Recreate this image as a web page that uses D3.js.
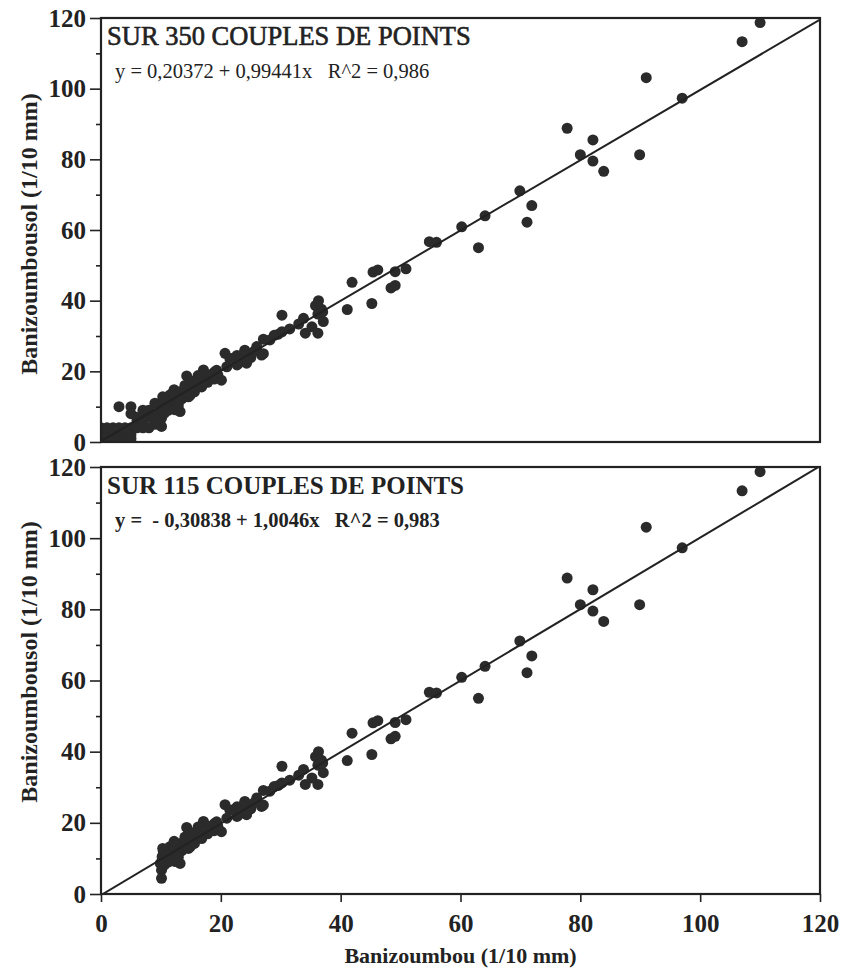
<!DOCTYPE html>
<html>
<head>
<meta charset="utf-8">
<script src="https://cdn.jsdelivr.net/npm/d3@7"></script>
<style>
  html, body { margin: 0; padding: 0; background: #fff; }
  svg { display: block; }
  text { font-family: "Liberation Serif", "Times New Roman", serif; fill: #222; }
</style>
</head>
<body>
<svg id="chart" width="843" height="968"></svg>
<script>
// Pairs (Banizoumbou, Banizoumbousol) in 1/10 mm, events of 1 mm and more
const pairsMain = [
  [110.0,118.7],[107.0,113.3],[91.0,103.1],[97.0,97.3],[77.8,88.8],[82.1,85.5],
  [80.0,81.3],[82.1,79.5],[83.9,76.6],[89.9,81.3],[69.9,71.1],[71.9,66.9],
  [71.1,62.2],[64.1,64.0],[60.2,60.9],[54.8,56.7],[56.0,56.5],[63.0,55.0],[50.9,49.0],
  [41.9,45.2],[41.1,37.5],[45.2,39.2],[45.4,48.1],[46.2,48.7],[48.4,43.6],[49.1,44.3],[49.1,48.2],
  [30.2,35.9],[30.2,31.2],[33.8,35.0],[34.1,30.8],[35.8,38.6],[36.3,40.0],[36.8,37.6],
  [36.2,36.2],[37.1,34.1],[36.2,30.8],[35.2,32.6],[33.0,33.4],[31.5,32.0],[37.0,36.8],
  [27.1,29.1],[28.2,28.9],[26.8,24.6],[24.0,26.0],[24.3,22.3],[22.7,21.8],[20.7,25.1],
  [22.1,23.7],[21.0,21.3],[27.1,25.0],[22.7,24.5],[22.9,22.2],[21.5,23.6],[24.0,25.6],
  [25.0,23.9],[26.0,27.0],[29.6,30.5],[25.6,25.7],[23.4,23.0],[28.9,30.2],
  [20.1,17.5],[19.0,19.9],[17.1,20.4],[14.3,18.7],[19.3,20.3],[18.7,19.4],[17.9,18.5],
  [17.1,19.9],[16.5,17.1],[15.4,15.7],[14.9,13.3],[13.2,14.2],[13.2,8.6],[12.4,9.1],
  [11.5,13.3],[10.4,11.9],[9.9,8.6],[10.1,6.7],[10.1,4.4],
  [10.2,10.5],[10.5,9.6],[11.0,12.0],[11.2,10.8],[11.8,11.6],[12.0,12.6],[12.5,11.0],
  [12.8,13.6],[13.5,12.2],[13.8,13.0],[14.2,14.8],[14.6,12.8],[15.0,15.2],[15.6,14.2],
  [16.0,16.3],[16.8,15.6],[17.2,17.5],[17.8,16.9],[18.2,18.1],[18.9,17.8],[19.5,19.0],
  [16.2,18.8],[15.4,17.2],[14.0,16.0],[13.0,11.5],[12.2,14.8],[11.6,10.2],[10.8,11.2],
  [10.3,12.8],[10.6,8.2],[11.3,9.0],[12.9,10.3],[14.8,16.6],[16.6,16.0],[17.6,18.8]
];

// Small events (below 1 mm at Banizoumbou), only in the full sample
const pairsSmall = [
  [0,0],[0,1],[0,2],[0,3],[0,4],[1,0],[1,1],[1,2],[1,3],[1,4],
  [2,0],[2,1],[2,2],[2,3],[2,4],[3,0],[3,1],[3,2],[3,3],[3,4],
  [4,0],[4,1],[4,2],[4,3],[4,4],[5,0],[5,1],[5,2],[5,3],[5,4],
  [3,10],[5,10],[5,8],[7,9],[7,7],[8,9],[9,8],[9,11],[6,4],[7,4],
  [8,4],[9,5],[6,6],[7,6],[6,7],[8,7],[10,10],[11,12],[12,14],[13,14],[15,17]
];

// Regression fits: [intercept, slope, R^2]
const fitAll = [0.20372, 0.99441, 0.986];
const fitSub = [-0.30838, 1.0046, 0.983];

const panelTitles = ["SUR 350 COUPLES DE POINTS", "SUR 115 COUPLES DE POINTS"];
const equationTexts = ["y = 0,20372 + 0,99441x   R^2 = 0,986", "y =  - 0,30838 + 1,0046x   R^2 = 0,983"];
const majorTicks = [0, 20, 40, 60, 80, 100, 120];
const minorTicks = [10, 30, 50, 70, 90, 110];
const xTitle = "Banizoumbou (1/10 mm)";
const yTitle = "Banizoumbousol (1/10 mm)";

const svg = d3.select("#chart");
const ink = "#222";

const x = d3.scaleLinear().domain([0, 120]).range([101, 820]);

const panels = [
  { data: pairsSmall.concat(pairsMain), fit: fitAll, top: 18, bottom: 442,
    title: panelTitles[0], eq: equationTexts[0], bold: false, xAxis: false, yTitleY: 234 },
  { data: pairsMain, fit: fitSub, top: 467, bottom: 894,
    title: panelTitles[1], eq: equationTexts[1], bold: true, xAxis: true, yTitleY: 662 }
];

panels.forEach((p, i) => {
  const y = d3.scaleLinear().domain([0, 120]).range([p.bottom, p.top]);
  const g = svg.append("g");

  const clipId = "clip" + i;
  svg.append("clipPath").attr("id", clipId)
    .append("rect")
    .attr("x", x(0)).attr("y", y(120))
    .attr("width", x(120) - x(0)).attr("height", y(0) - y(120));

  // points
  g.append("g").attr("clip-path", `url(#${clipId})`)
    .selectAll("circle").data(p.data).join("circle")
    .attr("cx", d => x(d[0])).attr("cy", d => y(d[1]))
    .attr("r", 5.5).attr("fill", "#2b2b2b");

  // regression line
  const line = d3.line().x(d => x(d)).y(d => y(p.fit[0] + p.fit[1] * d));
  g.append("path").attr("clip-path", `url(#${clipId})`)
    .datum([0, 120]).attr("d", line)
    .attr("fill", "none").attr("stroke", ink).attr("stroke-width", 2);

  // frame
  g.append("rect")
    .attr("x", x(0)).attr("y", y(120))
    .attr("width", x(120) - x(0)).attr("height", y(0) - y(120))
    .attr("fill", "none").attr("stroke", ink).attr("stroke-width", 2.2);

  // y axis: major ticks with labels, minor ticks without
  const yMajor = g.append("g").attr("transform", `translate(${x(0)},0)`)
    .call(d3.axisLeft(y).tickValues(majorTicks).tickSize(11).tickPadding(4).tickFormat(d3.format("d")));
  const yMinor = g.append("g").attr("transform", `translate(${x(0)},0)`)
    .call(d3.axisLeft(y).tickValues(minorTicks).tickSize(5).tickFormat(""));
  [yMajor, yMinor].forEach(a => {
    a.select(".domain").remove();
    a.selectAll("line").attr("stroke", ink).attr("stroke-width", 1.6);
  });
  yMajor.selectAll("text")
    .attr("font-size", 25).attr("font-weight", "bold")
    .attr("font-family", "Liberation Serif, serif").attr("fill", ink);

  // y axis title
  g.append("text")
    .attr("transform", `translate(37,${p.yTitleY}) rotate(-90)`)
    .attr("text-anchor", "middle")
    .attr("font-size", 24).attr("font-weight", "bold")
    .text(yTitle);

  if (p.xAxis) {
    const xa = g.append("g").attr("transform", `translate(0,${y(0)})`)
      .call(d3.axisBottom(x).tickValues(majorTicks).tickSize(8).tickPadding(12).tickFormat(d3.format("d")));
    xa.select(".domain").remove();
    xa.selectAll("line").attr("stroke", ink).attr("stroke-width", 1.6);
    xa.selectAll("text")
      .attr("font-size", 25).attr("font-weight", "bold")
      .attr("font-family", "Liberation Serif, serif").attr("fill", ink);

    g.append("text")
      .attr("x", (x(0) + x(120)) / 2).attr("y", 963)
      .attr("text-anchor", "middle")
      .attr("font-size", 22).attr("font-weight", "bold")
      .text(xTitle);
  }

  // panel heading and fit equation
  g.append("text")
    .attr("x", 107).attr("y", y(120) + 27)
    .attr("font-size", p.bold ? 25 : 26.5)
    .attr("font-weight", p.bold ? "bold" : "normal")
    .attr("stroke", p.bold ? "none" : ink).attr("stroke-width", 0.6)
    .text(p.title);

  g.append("text")
    .attr("x", 115).attr("y", y(120) + 60)
    .attr("font-size", p.bold ? 20.5 : 20.5)
    .attr("font-weight", p.bold ? "bold" : "normal")
    .attr("xml:space", "preserve")
    .style("white-space", "pre")
    .text(p.eq);
});
</script>
</body>
</html>
